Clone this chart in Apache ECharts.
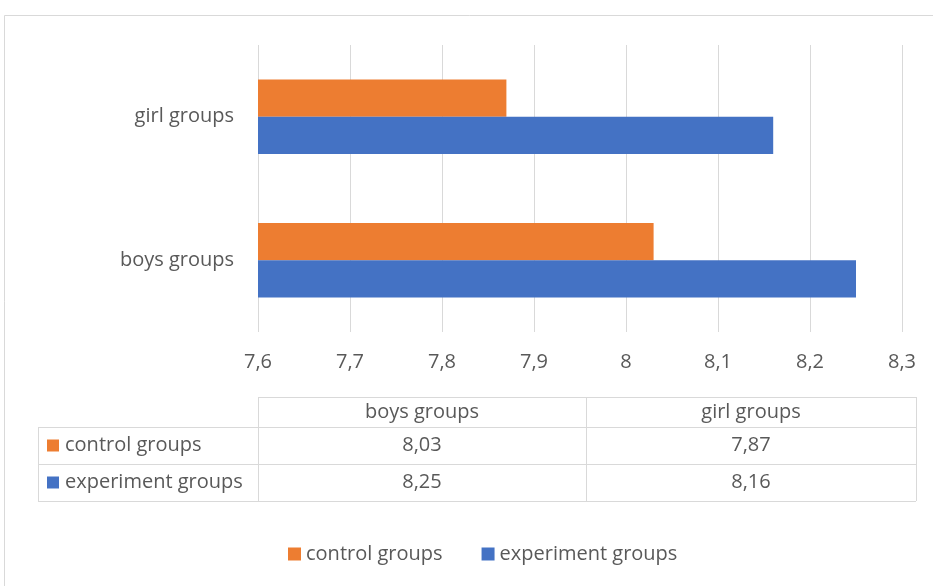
<!DOCTYPE html>
<html style="height: 100%">
<head>
    <meta charset="utf-8">
</head>
<body style="height: 100%; margin: 0">
    <div id="container" style="width: 933px; height: 586px"></div>

    <script src="https://cdn.jsdelivr.net/npm/echarts@6/dist/echarts.min.js"></script>
    <script type="text/javascript">
        // 数据
        const categories = ['boys groups', 'girl groups'];
        const seriesNames = ['control groups', 'experiment groups'];
        const controlValues = [8.03, 7.87];
        const experimentValues = [8.25, 8.16];
        const xTicks = [7.6, 7.7, 7.8, 7.9, 8, 8.1, 8.2, 8.3];

        const colors = ['#ED7D31', '#4472C4'];
        const textColor = '#595959';
        const lineColor = '#d9d9d9';
        const fontFamily = 'Open Sans';
        const fontSize = 20;

        const dom = document.getElementById('container');
        const myChart = echarts.init(dom, null, { renderer: 'canvas' });

        const fmt = (v, d) => v.toFixed(d).replace('.', ',');

        // 数据表 (graphic)
        const tbl = {
            left: 38, col1: 258, col2: 586, right: 916,
            rows: [397, 427, 464, 501]
        };
        const graphics = [];
        graphics.push({
            type: 'rect', shape: { x: 4.5, y: 15.5, width: 960, height: 620 },
            style: { fill: null, stroke: lineColor, lineWidth: 1 }, silent: true
        });
        const hline = (x1, x2, y) => graphics.push({
            type: 'line', shape: { x1: x1, y1: y + 0.5, x2: x2, y2: y + 0.5 },
            style: { stroke: lineColor, lineWidth: 1 }, silent: true
        });
        const vline = (x, y1, y2) => graphics.push({
            type: 'line', shape: { x1: x + 0.5, y1: y1, x2: x + 0.5, y2: y2 },
            style: { stroke: lineColor, lineWidth: 1 }, silent: true
        });
        hline(tbl.col1, tbl.right, tbl.rows[0]);
        hline(tbl.left, tbl.right, tbl.rows[1]);
        hline(tbl.left, tbl.right, tbl.rows[2]);
        hline(tbl.left, tbl.right, tbl.rows[3]);
        vline(tbl.left, tbl.rows[1], tbl.rows[3]);
        vline(tbl.col1, tbl.rows[0], tbl.rows[3]);
        vline(tbl.col2, tbl.rows[0], tbl.rows[3]);
        vline(tbl.right, tbl.rows[0], tbl.rows[3]);

        const colX = [tbl.col1, tbl.col2, tbl.right];
        const addText = (text, x, y, align) => graphics.push({
            type: 'text', x: x, y: y, silent: true,
            style: {
                text: text, fill: textColor, font: fontSize + 'px ' + fontFamily,
                textAlign: align, textVerticalAlign: 'middle'
            }
        });
        categories.forEach((c, i) => {
            addText(c, (colX[i] + colX[i + 1]) / 2, (tbl.rows[0] + tbl.rows[1]) / 2, 'center');
        });
        const rowValues = [controlValues, experimentValues];
        seriesNames.forEach((name, r) => {
            const cy = (tbl.rows[r + 1] + tbl.rows[r + 2]) / 2;
            graphics.push({
                type: 'rect', shape: { x: 47, y: cy - 6, width: 12, height: 12 },
                style: { fill: colors[r] }, silent: true
            });
            addText(name, 65, cy, 'left');
            rowValues[r].forEach((v, i) => {
                addText(fmt(v, 2), (colX[i] + colX[i + 1]) / 2, cy, 'center');
            });
        });

        const option = {
            animation: false,
            backgroundColor: '#fff',
            textStyle: { fontFamily: fontFamily },
            grid: { left: 258, right: 31, top: 45, bottom: 254, containLabel: false },
            legend: {
                bottom: 17,
                left: 283,
                icon: 'rect',
                itemWidth: 13,
                itemHeight: 13,
                itemGap: 39,
                data: seriesNames,
                textStyle: { color: textColor, fontSize: fontSize, fontFamily: fontFamily }
            },
            xAxis: {
                type: 'value',
                min: xTicks[0],
                max: xTicks[xTicks.length - 1],
                interval: 0.1,
                axisLine: { show: false },
                axisTick: { show: false },
                splitLine: { lineStyle: { color: lineColor, width: 1 } },
                axisLabel: {
                    color: textColor, fontSize: fontSize, margin: 20,
                    formatter: v => fmt(+v.toFixed(1), v % 1 === 0 ? 0 : 1).replace(',0', '')
                }
            },
            yAxis: {
                type: 'category',
                data: categories,
                axisLine: { show: false },
                axisTick: { show: false },
                axisLabel: { color: textColor, fontSize: fontSize, margin: 24 }
            },
            series: [
                {
                    name: seriesNames[0], type: 'bar', data: controlValues,
                    itemStyle: { color: colors[0] }, barGap: 0, barCategoryGap: '48%'
                },
                {
                    name: seriesNames[1], type: 'bar', data: experimentValues,
                    itemStyle: { color: colors[1] }, barGap: 0, barCategoryGap: '48%'
                }
            ],
            graphic: graphics
        };

        myChart.setOption(option);
    </script>
</body>
</html>
